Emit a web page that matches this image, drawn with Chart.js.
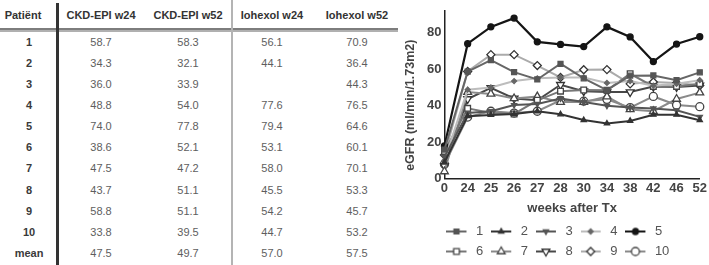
<!DOCTYPE html>
<html>
<head>
<meta charset="utf-8">
<script src="https://cdn.jsdelivr.net/npm/chart.js@4/dist/chart.umd.min.js"></script>
<style>
  html, body { margin: 0; padding: 0; background: #fff; overflow: hidden; }
  #page { position: relative; width: 709px; height: 265px; overflow: hidden; font-family: "Liberation Sans", Arial, sans-serif; }
  #table { position: absolute; left: 0; top: 0; width: 398px; height: 265px; }
  .cell { position: absolute; width: 90px; height: 16px; line-height: 16px; text-align: center; font-size: 11px; color: #5e5e5e; white-space: nowrap; }
  .head { font-weight: bold; color: #333; }
  .lab { font-weight: bold; color: #3a3a3a; }
  #chartBox { position: absolute; left: 398px; top: 0; width: 311px; height: 268px; }
</style>
</head>
<body>
<div id="page">
  <div id="table"></div>
  <div id="chartBox"><canvas id="egfrChart" width="311" height="268"></canvas></div>
</div>
<script>
// table
const headers = ['Patiënt', 'CKD-EPI w24', 'CKD-EPI w52', 'Iohexol w24', 'Iohexol w52']
const patients = ['1', '2', '3', '4', '5', '6', '7', '8', '9', '10', 'mean']
const ckdW24 = [58.7, 34.3, 36.0, 48.8, 74.0, 38.6, 47.5, 43.7, 58.8, 33.8, 47.5]
const ckdW52 = [58.3, 32.1, 33.9, 54.0, 77.8, 52.1, 47.2, 51.1, 51.1, 39.5, 49.7]
const iohW24 = [56.1, 44.1, null, 77.6, 79.4, 53.1, 58.0, 45.5, 54.2, 44.7, 57.0]
const iohW52 = [70.9, 36.4, 44.3, 76.5, 64.6, 60.1, 70.1, 53.3, 45.7, 53.2, 57.5]

// chart
const weeks = ['0', '24', '25', '26', '27', '28', '30', '34', '38', '42', '46', '52']
const p1 = [16, 58.7, 65, 58.4, 54.4, 63, 55, 48.6, 56.5, 56.6, 54, 58.3]
const p2 = [9, 34.3, 35, 35.5, 37, 35.3, 32.2, 30.3, 31.7, 35.1, 35.1, 32.1]
const p3 = [12, 36.0, 37, 40.4, 41, 44, 42, 40, 39, 38.5, 37.5, 33.9]
const p4 = [10, 48.8, 50, 53.5, 55, 55.5, 55.5, 52.5, 53.5, 51, 52, 54.0]
const p5 = [18, 74.0, 83.2, 88, 75, 73.6, 72.4, 83.2, 77.7, 64.2, 73.8, 77.8]
const p6 = [15, 38.6, 36, 35.5, 43, 48, 48.6, 48.5, 57.5, 50.6, 50.6, 52.1]
const p7 = [4, 47.5, 46.5, 44, 45, 42, 42, 45, 38, 37, 43.7, 47.2]
const p8 = [7, 43.7, 49.8, 44, 43, 51.5, 48, 47.5, 47.5, 50.5, 50.3, 51.1]
const p9 = [13, 58.8, 68, 68, 62, 55.5, 59.7, 59.8, 52, 53, 52.5, 51.1]
const p10 = [8, 33.8, 37, 36, 37, 43, 42.5, 43.5, 39, 45.1, 40.4, 39.5]
const yTicks = [0, 20, 40, 60, 80]

const buildTable = () => {
    const box = document.getElementById('table')
    const colX = [29, 101, 188, 272, 357]
    const add = (text, x, y, cls) => {
        const d = document.createElement('div')
        d.className = 'cell ' + cls
        d.style.left = (x - 45) + 'px'
        d.style.top = (y - 8) + 'px'
        d.textContent = text
        box.appendChild(d)
    }
    headers.forEach((h, i) => add(h, i === 0 ? 23 : colX[i], 15, 'head'))
    const cols = [ckdW24, ckdW52, iohW24, iohW52]
    patients.forEach((p, r) => {
        const y = 41.5 + r * 21.15
        add(p, colX[0], y, 'lab')
        cols.forEach((col, c) => {
            if (col[r] !== null) add(col[r].toFixed(1), colX[c + 1], y, '')
        })
    })
    // rules
    const rule = (css) => {
        const d = document.createElement('div')
        d.style.cssText = 'position:absolute;' + css
        box.appendChild(d)
    }
    rule('left:0;top:28px;width:398px;height:2px;background:#7d7d7d')
    rule('left:0;top:30px;width:398px;height:2px;background:#b0b0b0')
    rule('left:56px;top:3px;width:3px;height:262px;background:#333')
    rule('left:231px;top:0;width:2px;height:265px;background:#b4b4b4')
}

const series = [
    { label: '1', data: p1, line: '#666', fill: '#555', edge: '#555', style: 'rect', r: 3.5, rot: 0 },
    { label: '2', data: p2, line: '#333', fill: '#333', edge: '#333', style: 'triangle', r: 3, rot: 0 },
    { label: '3', data: p3, line: '#555', fill: '#555', edge: '#555', style: 'triangle', r: 3, rot: 180 },
    { label: '4', data: p4, line: '#bdbdbd', fill: '#666', edge: '#666', style: 'rectRot', r: 2.5, rot: 0 },
    { label: '5', data: p5, line: '#151515', fill: '#151515', edge: '#151515', style: 'circle', r: 3, rot: 0 },
    { label: '6', data: p6, line: '#777', fill: '#fff', edge: '#444', style: 'rect', r: 4, rot: 0 },
    { label: '7', data: p7, line: '#8a8a8a', fill: '#fff', edge: '#444', style: 'triangle', r: 4.5, rot: 0 },
    { label: '8', data: p8, line: '#484848', fill: '#fff', edge: '#333', style: 'triangle', r: 4.5, rot: 180 },
    { label: '9', data: p9, line: '#ababab', fill: '#fff', edge: '#333', style: 'rectRot', r: 4, rot: 0 },
    { label: '10', data: p10, line: '#8a8a8a', fill: '#fff', edge: '#444', style: 'circle', r: 4, rot: 0 }
]

const legendIcon = (s) => {
    const c = document.createElement('canvas')
    c.width = 22
    c.height = 14
    const g = c.getContext('2d')
    g.strokeStyle = s.line
    g.lineWidth = 2
    g.beginPath()
    g.moveTo(0, 7)
    g.lineTo(20, 7)
    g.stroke()
    g.fillStyle = s.fill
    g.strokeStyle = s.edge
    g.lineWidth = 1.3
    Chart.helpers.drawPoint(g, { pointStyle: s.style, radius: s.r, rotation: s.rot, borderWidth: 1.3 }, 10, 7)
    return c
}

// pull the legend a few px left of the plot area edge, like the original
const nudgeLegend = {
    id: 'nudgeLegend',
    afterLayout(chart) {
        chart.legend.left -= 6
        chart.legend.right -= 6
    }
}

const drawChart = () => {
    const icons = series.map(legendIcon)
    const ctx = document.getElementById('egfrChart')
    new Chart(ctx, {
        type: 'line',
        data: {
            labels: weeks,
            datasets: series.map(s => ({
                label: s.label,
                data: s.data,
                borderColor: s.line,
                borderWidth: s.label === '5' ? 2.2 : 2,
                pointStyle: s.style,
                pointRadius: s.r,
                pointRotation: s.rot,
                pointBackgroundColor: s.fill,
                pointBorderColor: s.edge,
                pointBorderWidth: 1.3,
                tension: 0
            }))
        },
        options: {
            responsive: false,
            animation: false,
            layout: { padding: { top: 4, right: 0, left: 0, bottom: 0 } },
            plugins: {
                tooltip: { enabled: false },
                legend: {
                    position: 'bottom',
                    align: 'start',
                    fullSize: false,
                    labels: {
                        usePointStyle: true,
                        pointStyleWidth: 24,
                        padding: 7,
                        color: '#555',
                        font: { family: '"Liberation Sans", Arial, sans-serif', size: 13 },
                        generateLabels: chart => Chart.defaults.plugins.legend.labels.generateLabels(chart)
                            .map((item, i) => ({ ...item, pointStyle: icons[i], rotation: 0 }))
                    }
                }
            },
            scales: {
                x: {
                    offset: false,
                    grid: { display: false, drawTicks: false },
                    border: { color: '#222', width: 1.5 },
                    ticks: {
                        padding: 2,
                        color: '#444',
                        maxRotation: 0,
                        autoSkip: false,
                        font: { family: '"Liberation Sans", Arial, sans-serif', size: 13, weight: 'bold' }
                    },
                    title: {
                        display: true,
                        text: 'weeks after Tx',
                        color: '#444',
                        padding: { top: 2, bottom: 2 },
                        font: { family: '"Liberation Sans", Arial, sans-serif', size: 13, weight: 'bold' }
                    }
                },
                y: {
                    min: 0,
                    max: 92,
                    grid: { display: false, drawTicks: false },
                    border: { color: '#222', width: 1.5 },
                    afterBuildTicks: scale => { scale.ticks = yTicks.map(v => ({ value: v })) },
                    ticks: {
                        padding: 3,
                        color: '#444',
                        font: { family: '"Liberation Sans", Arial, sans-serif', size: 13, weight: 'bold' }
                    },
                    title: {
                        display: true,
                        // trailing spaces push the centred title a little lower, as in the original
                        text: 'eGFR (ml/min/1.73m2)      ',
                        color: '#444',
                        padding: { top: 5, bottom: 6 },
                        font: { family: '"Liberation Sans", Arial, sans-serif', size: 12.5, weight: 'bold' }
                    }
                }
            }
        },
        plugins: [nudgeLegend]
    })
}

buildTable()
drawChart()
</script>
</body>
</html>
